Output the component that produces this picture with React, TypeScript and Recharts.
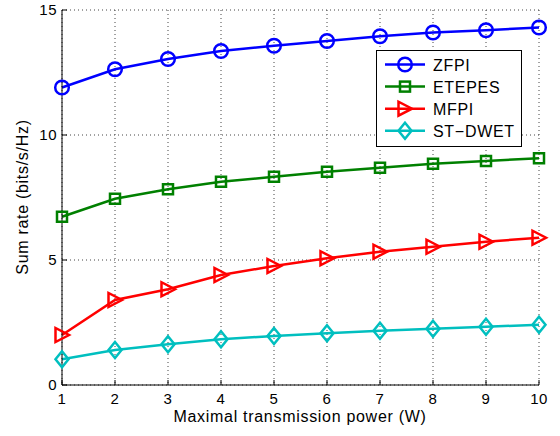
import React from 'react';
import { LineChart, Line, XAxis, YAxis, CartesianGrid } from 'recharts';

const powers = [1, 2, 3, 4, 5, 6, 7, 8, 9, 10];
const zfpi = [11.9, 12.63, 13.04, 13.36, 13.57, 13.76, 13.95, 14.1, 14.19, 14.3];
const etepes = [6.73, 7.45, 7.83, 8.13, 8.33, 8.53, 8.69, 8.85, 8.96, 9.07];
const mfpi = [2.0, 3.4, 3.83, 4.4, 4.76, 5.07, 5.33, 5.53, 5.73, 5.89];
const stdwet = [1.03, 1.4, 1.63, 1.83, 1.96, 2.07, 2.17, 2.25, 2.33, 2.41];
const xTicks = [1, 2, 3, 4, 5, 6, 7, 8, 9, 10];
const yTicks = [0, 5, 10, 15];

type MarkerKind = 'circle' | 'square' | 'triangle' | 'diamond';

const series: { key: string; name: string; color: string; marker: MarkerKind; values: number[] }[] = [
  { key: 'zfpi', name: 'ZFPI', color: '#0000ff', marker: 'circle', values: zfpi },
  { key: 'etepes', name: 'ETEPES', color: '#008000', marker: 'square', values: etepes },
  { key: 'mfpi', name: 'MFPI', color: '#ff0000', marker: 'triangle', values: mfpi },
  { key: 'stdwet', name: 'ST\u2212DWET', color: '#00bfbf', marker: 'diamond', values: stdwet },
];

const data = powers.map((p, i) => {
  const row: Record<string, number> = { power: p };
  series.forEach((s) => {
    row[s.key] = s.values[i];
  });
  return row;
});

const FONT = '"Liberation Sans", Arial, sans-serif';

function Marker({ kind, cx, cy, color }: { kind: MarkerKind; cx: number; cy: number; color: string }) {
  const common = { fill: 'none', stroke: color, strokeWidth: 2.5 };
  if (kind === 'circle') return <circle cx={cx} cy={cy} r={6.8} {...common} />;
  if (kind === 'square') return <rect x={cx - 5} y={cy - 5} width={10} height={10} {...common} />;
  if (kind === 'triangle')
    return <polygon points={`${cx - 6.5},${cy - 7} ${cx - 6.5},${cy + 7} ${cx + 7},${cy}`} {...common} />;
  return <polygon points={`${cx},${cy - 8} ${cx + 6.5},${cy} ${cx},${cy + 8} ${cx - 6.5},${cy}`} {...common} />;
}

const emptyTick = () => <g />;

export default function App() {
  const tickStyle = { fontSize: 15, fill: '#000', fontFamily: FONT, letterSpacing: 0.5 };
  return (
    <div style={{ position: 'absolute', left: 0, top: 0, width: 560, height: 436, background: '#fff' }}>
      <LineChart width={560} height={436} data={data} margin={{ top: 10, right: 21, bottom: 0, left: 0 }}>
        <CartesianGrid stroke="#444" strokeDasharray="1 3" strokeWidth={1} />
        <XAxis
          dataKey="power"
          type="number"
          domain={[1, 10]}
          ticks={xTicks}
          stroke="#000"
          tickSize={-5}
          tickMargin={13}
          tick={tickStyle}
          height={51}
        />
        <XAxis
          xAxisId="top"
          orientation="top"
          type="number"
          domain={[1, 10]}
          ticks={xTicks}
          stroke="#000"
          tickSize={-5}
          tick={emptyTick}
          height={0}
        />
        <YAxis
          type="number"
          domain={[0, 15]}
          ticks={yTicks}
          stroke="#000"
          tickSize={-5}
          tickMargin={10}
          tick={tickStyle}
          width={62}
        />
        <YAxis
          yAxisId="right"
          orientation="right"
          type="number"
          domain={[0, 15]}
          ticks={yTicks}
          stroke="#000"
          tickSize={-5}
          tick={emptyTick}
          width={0}
        />
        {series.map((s) => (
          <Line
            key={s.key}
            dataKey={s.key}
            name={s.name}
            stroke={s.color}
            strokeWidth={2.5}
            isAnimationActive={false}
            dot={(p: any) => <Marker key={`${s.key}-${p.index}`} kind={s.marker} cx={p.cx} cy={p.cy} color={s.color} />}
            activeDot={false}
          />
        ))}
      </LineChart>
      <svg
        width={560}
        height={436}
        style={{ position: 'absolute', left: 0, top: 0, pointerEvents: 'none' }}
      >
        <text
          x={300}
          y={422}
          textAnchor="middle"
          fontSize={16}
          fontFamily={FONT}
          letterSpacing={0.7}
        >
          Maximal transmission power (W)
        </text>
        <text
          transform="translate(28,197) rotate(-90)"
          textAnchor="middle"
          fontSize={16}
          fontFamily={FONT}
          letterSpacing={0.7}
        >
          Sum rate (bits/s/Hz)
        </text>
        <rect x={376.5} y={50.5} width={145} height={96} fill="#fff" stroke="#000" strokeWidth={1} />
        {series.map((s, i) => {
          const y = 64.5 + i * 22.1;
          return (
            <g key={s.key}>
              <line x1={385} x2={425} y1={y} y2={y} stroke={s.color} strokeWidth={2.5} />
              <Marker kind={s.marker} cx={405} cy={y} color={s.color} />
              <text x={433} y={y + 6} fontSize={16} fontFamily={FONT} letterSpacing={0.7}>
                {s.name}
              </text>
            </g>
          );
        })}
      </svg>
    </div>
  );
}
